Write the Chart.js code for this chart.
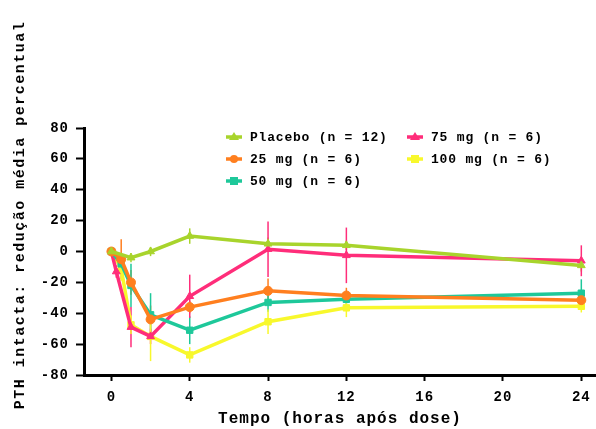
<!DOCTYPE html>
<html>
<head>
<meta charset="utf-8">
<script src="https://cdn.jsdelivr.net/npm/chart.js@4/dist/chart.umd.min.js"></script>
<style>
  html, body { margin: 0; padding: 0; background: #fff; }
  #wrap { width: 596px; height: 429px; }
</style>
</head>
<body>
<div id="wrap"><canvas id="pthChart"></canvas></div>
<script>
// hours after dose (0.25 only used by the 75 mg group)
var hours = [0, 0.25, 0.5, 1, 2, 4, 8, 12, 24];
var xTicks = [0, 4, 8, 12, 16, 20, 24];
var yTicks = [-80, -60, -40, -20, 0, 20, 40, 60, 80];

var seriesNames = ["Placebo (n = 12)", "25 mg (n = 6)", "50 mg (n = 6)", "75 mg (n = 6)", "100 mg (n = 6)"];

// mean % change in intact PTH
var placebo = [0, null, null, -4, 0, 10, 5, 4, -9];
var mg25    = [0, null, -5, -20, -44, -36, -25.5, -28.5, -31.5];
var mg50    = [0, null, -8, -22, -41, -51, -33, -31, -27];
var mg75    = [0, -13, null, -49, -55, -29, 1.5, -2.5, -6];
var mg100   = [0, null, -11, -47.5, -55, -67, -45.5, -36.5, -35.5];

// error bar half-lengths
var placeboErr = [0, null, null, 3, 3, 5, 4, 3, 4];
var mg25Err    = [0, null, 13, 8, 9, 4, 8, 5, 4];
var mg50Err    = [0, null, 6, 14, 14, 9, 6, 4, 9];
var mg75Err    = [0, 4, null, 13, 5, 14, 18, 18, 10];
var mg100Err   = [0, null, 8, 6, 16, 5, 8, 6, 4];

var colors = ["#a8d42c", "#ff7f1f", "#1ec89a", "#ff2d7a", "#f8f82c"];
var shapes = ["triangle", "circle", "rect", "triangle", "rect"];

function toPoints(vals, errs) {
    var pts = [];
    for (var i = 0; i < hours.length; i++) {
        if (vals[i] === null) continue;
        pts.push({ x: hours[i], y: vals[i], err: errs[i] });
    }
    return pts;
}

var allVals = [placebo, mg25, mg50, mg75, mg100];
var allErrs = [placeboErr, mg25Err, mg50Err, mg75Err, mg100Err];

var datasets = [];
for (var s = 0; s < allVals.length; s++) {
    datasets.push({
        label: seriesNames[s],
        data: toPoints(allVals[s], allErrs[s]),
        borderColor: colors[s],
        backgroundColor: colors[s],
        borderWidth: 3.5,
        pointStyle: shapes[s],
        pointRadius: 4.5,
        pointBorderWidth: 1,
        tension: 0,
        fill: false
    });
}

var FONT = '"Liberation Mono", "DejaVu Sans Mono", monospace';

// vertical error bars, through the chart scales
var errorBars = {
    id: "errorBars",
    beforeDatasetsDraw: function(chart) {
        var ctx = chart.ctx;
        var xs = chart.scales.x, ys = chart.scales.y;
        ctx.save();
        ctx.lineWidth = 1.5;
        chart.data.datasets.forEach(function(ds) {
            ctx.strokeStyle = ds.borderColor;
            ds.data.forEach(function(p) {
                if (!p.err) return;
                var px = xs.getPixelForValue(p.x);
                ctx.beginPath();
                ctx.moveTo(px, ys.getPixelForValue(p.y + p.err));
                ctx.lineTo(px, ys.getPixelForValue(p.y - p.err));
                ctx.stroke();
            });
        });
        ctx.restore();
    }
};

// spacing of the original lettering + rotated y title
var textBits = {
    id: "textBits",
    beforeDraw: function(chart) {
        chart.ctx.letterSpacing = "1px";
    },
    afterDraw: function(chart) {
        var ctx = chart.ctx;
        ctx.save();
        ctx.letterSpacing = "1.5px";
        ctx.fillStyle = "#000";
        ctx.font = "bold 15px " + FONT;
        ctx.translate(20, 215);
        ctx.rotate(-Math.PI / 2);
        ctx.textAlign = "center";
        ctx.textBaseline = "middle";
        ctx.fillText("PTH intacta: redução média percentual", 0, 0);
        ctx.restore();
    }
};

// legend laid out in two columns inside the plot
var legendBox = {
    id: "legendBox",
    afterDraw: function(chart) {
        var ctx = chart.ctx;
        var spots = [[226, 137], [226, 159], [226, 181], [407, 137], [407, 159]];
        ctx.save();
        ctx.letterSpacing = "0.8px";
        ctx.font = "bold 13px " + FONT;
        ctx.textBaseline = "middle";
        chart.data.datasets.forEach(function(ds, i) {
            var x = spots[i][0], y = spots[i][1];
            ctx.strokeStyle = ds.borderColor;
            ctx.fillStyle = ds.borderColor;
            ctx.lineWidth = 3.5;
            ctx.beginPath();
            ctx.moveTo(x, y);
            ctx.lineTo(x + 16, y);
            ctx.stroke();
            var cx = x + 8, r = 4;
            ctx.beginPath();
            if (ds.pointStyle === "circle") {
                ctx.arc(cx, y, r, 0, Math.PI * 2);
            } else if (ds.pointStyle === "rect") {
                ctx.rect(cx - r, y - r, 2 * r, 2 * r);
            } else {
                ctx.moveTo(cx, y - r - 1);
                ctx.lineTo(cx + r + 1, y + r - 1);
                ctx.lineTo(cx - r - 1, y + r - 1);
                ctx.closePath();
            }
            ctx.fill();
            ctx.fillStyle = "#000";
            ctx.fillText(ds.label, x + 24, y + 1);
        });
        ctx.restore();
    }
};

new Chart(document.getElementById("pthChart"), {
    type: "line",
    data: { datasets: datasets },
    plugins: [errorBars, textBits, legendBox],
    options: {
        responsive: true,
        maintainAspectRatio: false,
        animation: false,
        spanGaps: true,
        layout: { autoPadding: false, padding: { top: 128, right: 0, bottom: 0, left: 0 } },
        plugins: {
            legend: { display: false },
            tooltip: { enabled: false }
        },
        scales: {
            x: {
                type: "linear",
                min: -1.4,
                max: 24.75,
                afterBuildTicks: function(scale) {
                    scale.ticks = xTicks.map(function(v) { return { value: v }; });
                },
                afterFit: function(scale) {
                    scale.height = 54;
                    scale.paddingLeft = 0;
                    scale.paddingRight = 0;
                },
                border: { display: true, color: "#000", width: 3 },
                grid: { drawOnChartArea: false, drawTicks: true, tickLength: 6, tickWidth: 2, tickColor: "#000" },
                ticks: { color: "#000", padding: 8, maxRotation: 0, font: { family: FONT, size: 14, weight: "bold" } },
                title: {
                    display: true,
                    text: "Tempo (horas após dose)",
                    color: "#000",
                    padding: { top: 0, bottom: 0 },
                    font: { family: FONT, size: 16, weight: "bold" }
                }
            },
            y: {
                min: -80,
                max: 80,
                afterBuildTicks: function(scale) {
                    scale.ticks = yTicks.map(function(v) { return { value: v }; });
                },
                afterFit: function(scale) {
                    scale.width = 84;
                    scale.paddingTop = 0;
                    scale.paddingBottom = 0;
                },
                border: { display: true, color: "#000", width: 3 },
                grid: { drawOnChartArea: false, drawTicks: true, tickLength: 8, tickWidth: 2, tickColor: "#000" },
                ticks: { color: "#000", padding: 7, font: { family: FONT, size: 14, weight: "bold" } }
            }
        }
    }
});
</script>
</body>
</html>
